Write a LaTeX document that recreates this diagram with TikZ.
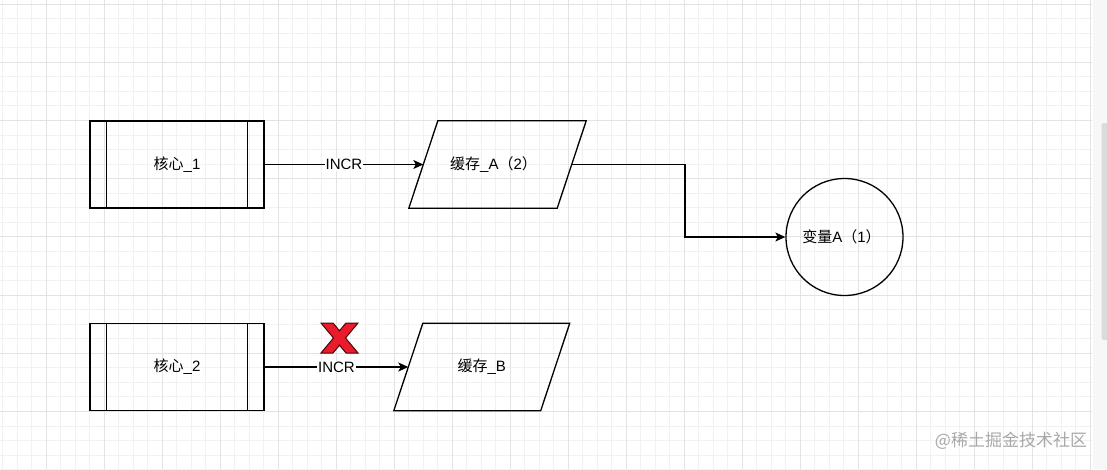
\documentclass[tikz,border=0pt]{standalone}
\usepackage{fontspec}
\setmainfont{Liberation Sans}
\newfontfamily\cjk{Noto Sans CJK SC}
\usetikzlibrary{arrows.meta,calc}
\definecolor{gridminor}{HTML}{F1F1F1}
\definecolor{gridmajor}{HTML}{E3E3E3}
\definecolor{xred}{HTML}{EA1B2B}
\definecolor{xdark}{HTML}{4A0508}
\definecolor{wm}{HTML}{A8A8A8}
\begin{document}
\begin{tikzpicture}[x=1pt,y=-1pt,
  font=\fontsize{15}{18}\selectfont,
  minorline/.style={draw=gridminor,line width=0.8pt},
  majorline/.style={draw=gridmajor,line width=0.9pt},
  corebox/.style={draw,line width=1.3pt,minimum width=174pt,minimum height=87pt,inner sep=0pt},
  cachebox/.style={minimum height=87pt,inner sep=0pt},
  varnode/.style={draw,circle,line width=1.3pt,minimum size=117pt,inner sep=0pt},
  conn/.style={line width=1.3pt,-{Stealth[length=10pt,width=9pt,inset=2.5pt]}},
  lbl/.style={fill=white,inner sep=1pt},
  xmark/.style={fill=xred,draw=xdark,line width=1pt,line join=miter},
  wmark/.style={text=wm,font=\cjk\fontsize{17}{20}\selectfont}]
\useasboundingbox (0,0) rectangle (1107,469);
\fill[white] (0,0) rectangle (1107,469);
% grid
\foreach \i in {0,...,75} {\path[minorline] ({2.5+14.5*\i},0) -- ({2.5+14.5*\i},469);}
\foreach \j in {0,...,32} {\path[minorline] (0,{4+14.55*\j}) -- (1092,{4+14.55*\j});}
\foreach \i in {0,...,18} {\path[majorline] ({46+58*\i},0) -- ({46+58*\i},469);}
\foreach \j in {0,...,7} {\path[majorline] (0,{4+58.2*\j}) -- (1092,{4+58.2*\j});}
% right strip and scrollbar
\fill[white!97!black] (1093,0) rectangle (1107,469);
\fill[white!86!black,rounded corners=2.5pt] (1101.5,123) rectangle (1109,340);
% nodes
\node[corebox] (core1) at (177,164.5) {{\cjk 核心}\_1};
\draw[line width=1.3pt] ([xshift=17pt]core1.north west) -- ([xshift=17pt]core1.south west);
\draw[line width=1.3pt] ([xshift=-17pt]core1.north east) -- ([xshift=-17pt]core1.south east);
\node[corebox] (core2) at (177,367) {{\cjk 核心}\_2};
\draw[line width=1.3pt] ([xshift=17pt]core2.north west) -- ([xshift=17pt]core2.south west);
\draw[line width=1.3pt] ([xshift=-17pt]core2.north east) -- ([xshift=-17pt]core2.south east);
\node[cachebox,minimum width=148pt] (cacheA) at (497.5,164.5) {\hspace*{-8pt}{\cjk 缓存}\_A{\cjk （}2{\cjk ）}};
\draw[line width=1.3pt] ([xshift=14.5pt]cacheA.north west) -- ([xshift=14.5pt]cacheA.north east)
  -- ([xshift=-14.5pt]cacheA.south east) -- ([xshift=-14.5pt]cacheA.south west) -- cycle;
\node[cachebox,minimum width=146.5pt] (cacheB) at (481.75,367) {{\cjk 缓存}\_B};
\draw[line width=1.3pt] ([xshift=14.5pt]cacheB.north west) -- ([xshift=14.5pt]cacheB.north east)
  -- ([xshift=-14.5pt]cacheB.south east) -- ([xshift=-14.5pt]cacheB.south west) -- cycle;
\node[varnode] (var) at (844.5,237) {\hspace*{-6pt}{\cjk 变量}A{\cjk （}1{\cjk ）}};
% connectors
\coordinate (bend) at (685,200);
\draw[conn] (core1.east) -- node[lbl] (l1) {INCR} (cacheA.west);
\draw[conn] (cacheA.east) -| (bend) |- (var.west);
\draw[conn] (core2.east) -- node[lbl] (l2) {INCR} (cacheB.west);
% red cross
\path[xmark] (321,323) -- (333,323) -- (339.5,330.8) -- (346,323) -- (358,323)
  -- (345.5,338) -- (358,353) -- (346,353) -- (339.5,345.2) -- (333,353)
  -- (321,353) -- (333.5,338) -- cycle;
% watermark
\node[wmark] (wm) at (1011,441) {@稀土掘金技术社区};
\end{tikzpicture}
\end{document}
